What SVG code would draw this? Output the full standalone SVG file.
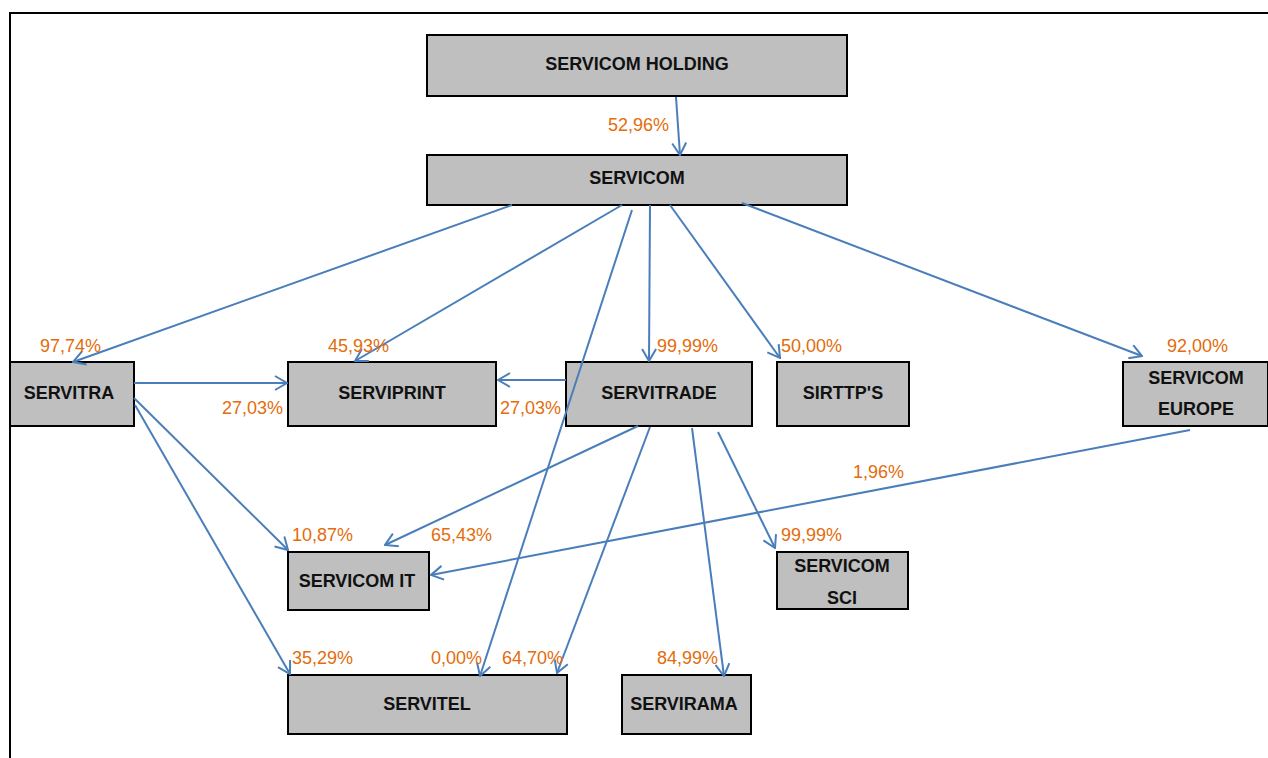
<svg xmlns="http://www.w3.org/2000/svg" width="1268" height="758" viewBox="0 0 1268 758">
<style>
.box{fill:#BFBFBF;stroke:#000;stroke-width:2}
.t{font-family:"Liberation Sans",Arial,sans-serif;font-weight:bold;font-size:18px;fill:#111;text-anchor:middle}
.p{font-family:"Liberation Sans",Arial,sans-serif;font-size:18px;fill:#E46C0A}
.c line{stroke:#4A7EBB;stroke-width:2;marker-end:url(#arr)}
</style>
<defs>
<marker id="arr" viewBox="0 0 14 16" refX="13" refY="8" markerWidth="14" markerHeight="16" markerUnits="userSpaceOnUse" orient="auto">
<path d="M1,1 L13,8 L1,15" fill="none" stroke="#4A7EBB" stroke-width="2"/>
</marker>
</defs>
<rect width="1268" height="758" fill="#fff"/>
<path d="M10,758 V13 H1268" fill="none" stroke="#000" stroke-width="2"/>

<g id="holding"><rect class="box" x="427" y="35" width="420" height="61"/><text class="t" x="637" y="70">SERVICOM HOLDING</text></g>
<g id="servicom"><rect class="box" x="427" y="155" width="420" height="50"/><text class="t" x="637" y="184">SERVICOM</text></g>
<g id="servitra"><rect class="box" x="10" y="362" width="124" height="64"/><text class="t" x="69" y="399">SERVITRA</text></g>
<g id="serviprint"><rect class="box" x="288" y="362" width="208" height="64"/><text class="t" x="392" y="399">SERVIPRINT</text></g>
<g id="servitrade"><rect class="box" x="566" y="362" width="186" height="64"/><text class="t" x="659" y="399">SERVITRADE</text></g>
<g id="sirttps"><rect class="box" x="777" y="362" width="132" height="64"/><text class="t" x="843" y="399">SIRTTP'S</text></g>
<g id="europe"><rect class="box" x="1123" y="362" width="145" height="64"/><text class="t" x="1196" y="384">SERVICOM</text><text class="t" x="1196" y="415">EUROPE</text></g>
<g id="servicomit"><rect class="box" x="288" y="552" width="141" height="58"/><text class="t" x="357" y="587">SERVICOM IT</text></g>
<g id="sci"><rect class="box" x="777" y="552" width="131" height="57"/><text class="t" x="842" y="572">SERVICOM</text><text class="t" x="842" y="604">SCI</text></g>
<g id="servitel"><rect class="box" x="288" y="675" width="279" height="59"/><text class="t" x="427" y="710">SERVITEL</text></g>
<g id="servirama"><rect class="box" x="622" y="675" width="129" height="59"/><text class="t" x="684" y="710">SERVIRAMA</text></g>

<g id="connectors" class="c">
<line x1="676" y1="97" x2="680" y2="155"/>
<line x1="512" y1="205" x2="73" y2="362"/>
<line x1="622" y1="205" x2="355" y2="361"/>
<line x1="632" y1="210" x2="480" y2="676"/>
<line x1="650" y1="205" x2="649" y2="361"/>
<line x1="670" y1="205" x2="780" y2="358"/>
<line x1="742" y1="203" x2="1142" y2="356"/>
<line x1="134" y1="383" x2="287" y2="383"/>
<line x1="566" y1="380" x2="498" y2="380"/>
<line x1="134" y1="398" x2="288" y2="550"/>
<line x1="135" y1="405" x2="290" y2="674"/>
<line x1="638" y1="426" x2="385" y2="545"/>
<line x1="650" y1="427" x2="557" y2="673"/>
<line x1="692" y1="428" x2="724" y2="676"/>
<line x1="718" y1="432" x2="775" y2="548"/>
<line x1="1190" y1="430" x2="431" y2="575"/>
</g>

<g id="labels">
<text class="p" x="608" y="131">52,96%</text>
<text class="p" x="40" y="352">97,74%</text>
<text class="p" x="328" y="352">45,93%</text>
<text class="p" x="657" y="352">99,99%</text>
<text class="p" x="781" y="352">50,00%</text>
<text class="p" x="1167" y="352">92,00%</text>
<text class="p" x="222" y="414">27,03%</text>
<text class="p" x="500" y="414">27,03%</text>
<text class="p" x="853" y="478">1,96%</text>
<text class="p" x="292" y="541">10,87%</text>
<text class="p" x="431" y="541">65,43%</text>
<text class="p" x="781" y="541">99,99%</text>
<text class="p" x="292" y="664">35,29%</text>
<text class="p" x="431" y="664">0,00%</text>
<text class="p" x="502" y="664">64,70%</text>
<text class="p" x="657" y="664">84,99%</text>
</g>
</svg>
